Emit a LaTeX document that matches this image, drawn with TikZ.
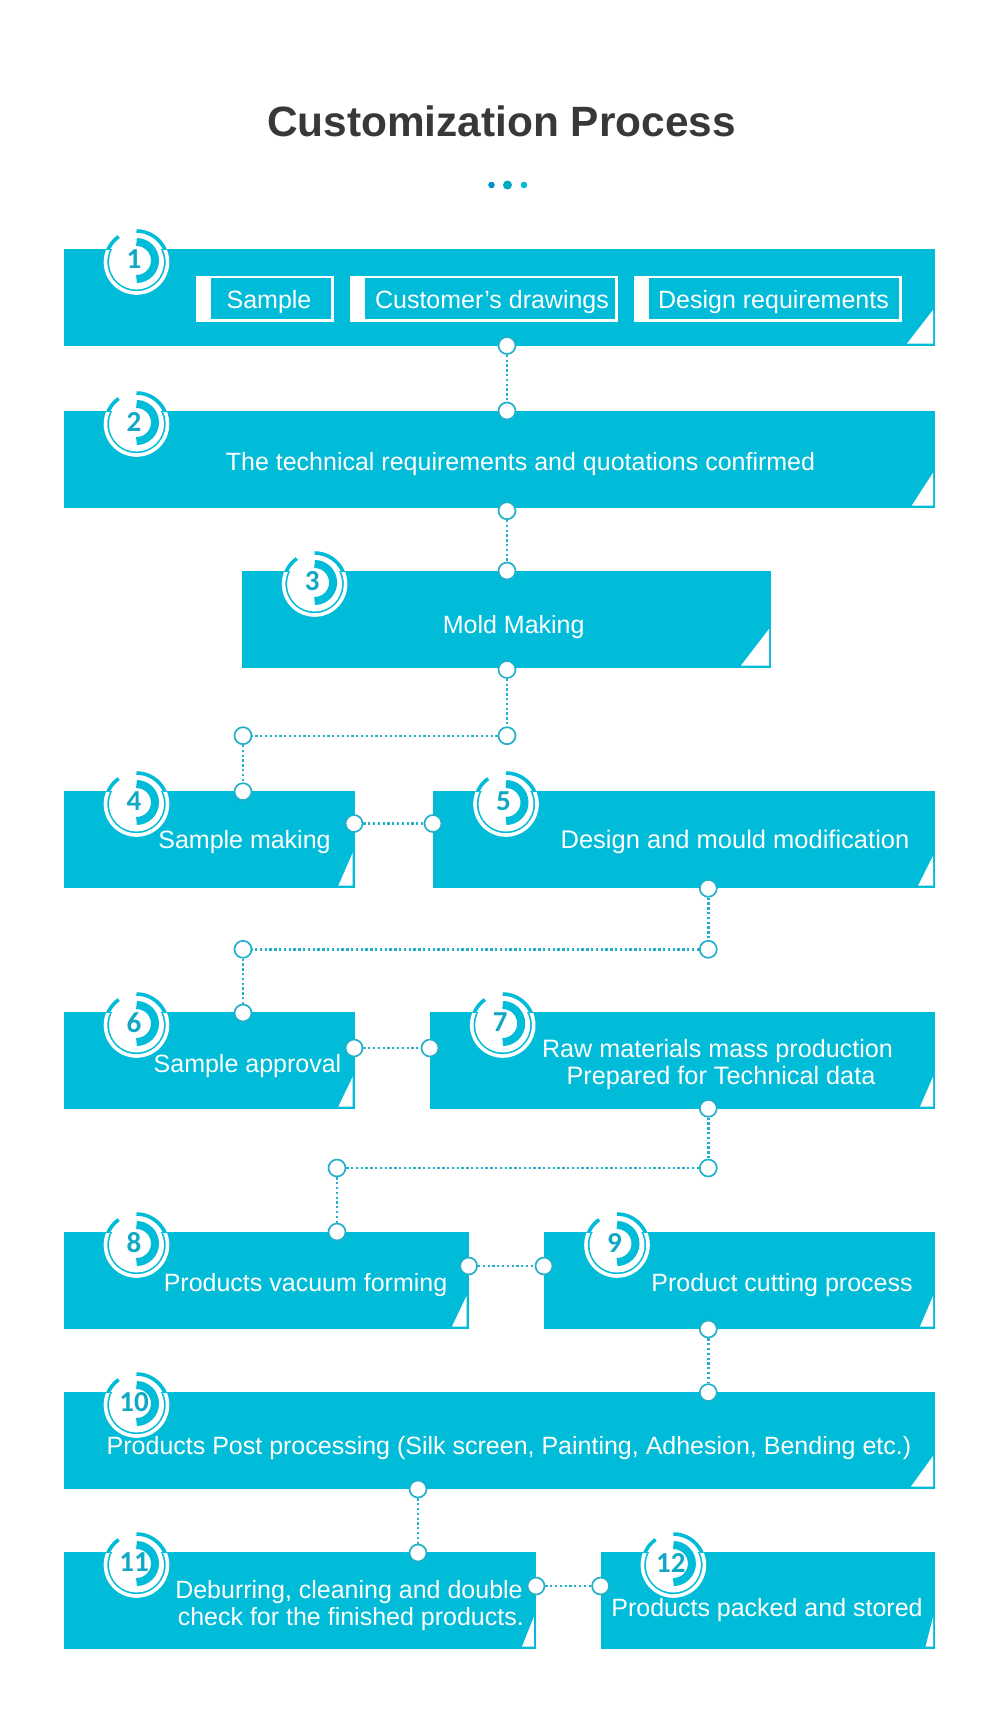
\documentclass[tikz,border=0pt]{standalone}
\usepackage{fontspec}
\setmainfont{Liberation Sans}
\newfontfamily\badgefont{Carlito}
\definecolor{bandteal}{HTML}{00BCD8}
\definecolor{linkteal}{HTML}{22B0CA}
\definecolor{digitteal}{HTML}{10A8C4}
\definecolor{titlegray}{HTML}{383838}
\tikzset{
	band/.style={fill=bandteal, inner sep=0pt, outer sep=0pt, minimum height=97pt},
	steptext/.style={text=white, anchor=base, inner sep=0pt, font=\fontsize{25}{30}\selectfont},
	chip/.style={draw=white, line width=2.6pt, inner sep=0pt, outer sep=0pt, minimum height=43.4pt},
	joint/.style={circle, draw=linkteal, fill=white, line width=1.7pt, inner sep=0pt, minimum size=17pt},
	link/.style={linkteal, line width=2.4pt, dash pattern=on 2.3pt off 2.5pt},
	fold/.style={fill=white}
}

\begin{document}
\begin{tikzpicture}[x=1pt, y=-1pt]
	\useasboundingbox (0,0) rectangle (1000,1725);

	\node[anchor=base, inner sep=0pt, text=titlegray, font=\fontsize{42.4}{50}\selectfont\bfseries] (title) at (501.5,136) {Customization Process};
	\fill[fill=black!10!bandteal!85!blue] (491.5,185) circle[radius=3.3];
	\fill[fill=bandteal!90!black] (507.5,185) circle[radius=4.5];
	\fill[fill=bandteal] (524,185) circle[radius=3.3];

	% bands
	\node[band, minimum width=871pt] (box1) at (499.5,297.5) {};
	\node[band, minimum width=871pt] (box2) at (499.5,459.5) {};
	\node[band, minimum width=529pt] (box3) at (506.5,619.5) {};
	\node[band, minimum width=291pt] (box4) at (209.5,839.5) {};
	\node[band, minimum width=502pt] (box5) at (684,839.5) {};
	\node[band, minimum width=291pt] (box6) at (209.5,1060.5) {};
	\node[band, minimum width=505pt] (box7) at (682.5,1060.5) {};
	\node[band, minimum width=405pt] (box8) at (266.5,1280.5) {};
	\node[band, minimum width=391pt] (box9) at (739.5,1280.5) {};
	\node[band, minimum width=871pt] (box10) at (499.5,1440.5) {};
	\node[band, minimum width=472pt] (box11) at (300,1600.5) {};
	\node[band, minimum width=334.4pt] (box12) at (767.8,1600.5) {};

	% folded corners
	\fill[fold] (933,310) -- (933,343.5) -- (907,343.5) -- cycle;
	\fill[fold] (933,472.7) -- (933,505.7) -- (911.7,505.7) -- cycle;
	\fill[fold] (769,629) -- (769,665.5) -- (741,665.5) -- cycle;
	\fill[fold] (352.7,852.7) -- (352.7,885.7) -- (338.3,885.7) -- cycle;
	\fill[fold] (933,856) -- (933,885.7) -- (918,885.7) -- cycle;
	\fill[fold] (352.7,1076.7) -- (352.7,1106.7) -- (338.3,1106.7) -- cycle;
	\fill[fold] (933,1076.7) -- (933,1106.7) -- (920,1106.7) -- cycle;
	\fill[fold] (466.5,1296) -- (466.5,1326.5) -- (452,1326.5) -- cycle;
	\fill[fold] (933,1296) -- (933,1326.5) -- (920,1326.5) -- cycle;
	\fill[fold] (933,1456) -- (933,1486.5) -- (911,1486.5) -- cycle;
	\fill[fold] (533.8,1617) -- (533.8,1646.5) -- (522,1646.5) -- cycle;
	\fill[fold] (933,1617) -- (933,1646.5) -- (925.6,1646.5) -- cycle;

	% request chips
	\node[chip, minimum width=135.4pt] (chip1) at (265,298.7) {};
	\node[chip, minimum width=265.4pt] (chip2) at (484,298.7) {};
	\node[chip, minimum width=265.1pt] (chip3) at (767.9,298.7) {};
	\fill[white] (chip1.north west) rectangle ([xshift=13.4pt]chip1.south west);
	\fill[white] (chip2.north west) rectangle ([xshift=13.4pt]chip2.south west);
	\fill[white] (chip3.north west) rectangle ([xshift=13.4pt]chip3.south west);

	% labels
	\node[steptext] (sample) at (269,308.7) {Sample};
	\node[steptext] (drawings) at (492,308.7) {Customer’s drawings};
	\node[steptext] (design) at (773.5,308.7) {Design requirements};
	\node[steptext] (label2) at (520.5,470) {The technical requirements and quotations confirmed};
	\node[steptext] (label3) at (513.7,633.6) {Mold Making};
	\node[steptext] (label4) at (244.5,848.7) {Sample making};
	\node[steptext, font=\fontsize{25.5}{30}\selectfont] (label5) at (735,848.7) {Design and mould modification};
	\node[steptext] (label6) at (247.5,1072) {Sample approval};
	\node[steptext, font=\fontsize{25.15}{30}\selectfont] (label7a) at (717.5,1057.7) {Raw materials mass production};
	\node[steptext, font=\fontsize{25.25}{30}\selectfont] (label7b) at (721,1084.5) {Prepared for Technical data};
	\node[steptext] (label8) at (305.5,1291) {Products vacuum forming};
	\node[steptext] (label9) at (782,1291) {Product cutting process};
	\node[steptext] (label10) at (509,1454) {Products Post processing (Silk screen, Painting, Adhesion, Bending etc.)};
	\node[steptext] (label11a) at (349,1598) {Deburring, cleaning and double};
	\node[steptext] (label11b) at (350.8,1625) {check for the finished products.};
	\node[steptext] (label12) at (767,1616.7) {Products packed and stored};

	% step badges
	\foreach \cx/\cy/\num in {136.5/262/1, 136.5/424/2, 314.6/584/3, 136.5/804/4, 506/804/5, 136.5/1025/6,
		502.7/1025/7, 136.5/1245/8, 617/1245/9, 136.5/1405/10, 136.5/1565/11, 673.4/1565/12} {
		\begin{scope}[shift={(\cx,\cy)}, x=1pt, y=1pt]
			\fill[white] (0,0) circle[radius=27.5];
			\draw[white, line width=3.6pt] (125:31) arc[start angle=125, end angle=450, radius=31];
			\begin{scope}
				\clip (-40,13) rectangle (40,40);
				\draw[bandteal, line width=3.6pt] (125:31) arc[start angle=125, end angle=450, radius=31];
			\end{scope}
			\draw[bandteal, line width=8pt] (0,20) arc[start angle=90, end angle=-90, radius=18.5];
			\node[inner sep=0pt, text=digitteal, font=\fontsize{29}{30}\selectfont\badgefont\bfseries] (badge\num) at (-2.5,2.5) {\num};
		\end{scope}
	}

	% joints
	\node[joint] (j1a) at (507,345.5) {};
	\node[joint] (j1b) at (507,411) {};
	\node[joint] (j2a) at (507,510.7) {};
	\node[joint] (j2b) at (507,571) {};
	\node[joint] (j3a) at (507,669.5) {};
	\node[joint] (j3b) at (507,735.7) {};
	\node[joint] (j3c) at (243,735.7) {};
	\node[joint] (j3d) at (243,791.7) {};
	\node[joint] (j4a) at (354,823.5) {};
	\node[joint] (j4b) at (433,823.5) {};
	\node[joint] (j5a) at (708.3,888.3) {};
	\node[joint] (j5b) at (708.3,949.3) {};
	\node[joint] (j5c) at (243,949.3) {};
	\node[joint] (j5d) at (243,1013) {};
	\node[joint] (j6a) at (354,1048) {};
	\node[joint] (j6b) at (430,1048) {};
	\node[joint] (j7a) at (708.3,1108.3) {};
	\node[joint] (j7b) at (708.3,1168) {};
	\node[joint] (j7c) at (337,1168) {};
	\node[joint] (j7d) at (337,1232) {};
	\node[joint] (j8a) at (468.6,1266) {};
	\node[joint] (j8b) at (544,1266) {};
	\node[joint] (j9a) at (708.3,1329) {};
	\node[joint] (j9b) at (708.3,1392.6) {};
	\node[joint] (j10a) at (418,1489) {};
	\node[joint] (j10b) at (418,1553) {};
	\node[joint] (j11a) at (536,1586) {};
	\node[joint] (j11b) at (600.6,1586) {};

	% links
	\draw[link] (j1a) -- (j1b);
	\draw[link] (j2a) -- (j2b);
	\draw[link] (j3a) -- (j3b);
	\draw[link] (j3b) -- (j3c);
	\draw[link] (j3c) -- (j3d);
	\draw[link] (j4a) -- (j4b);
	\draw[link] (j5a) -- (j5b);
	\draw[link] (j5b) -- (j5c);
	\draw[link] (j5c) -- (j5d);
	\draw[link] (j6a) -- (j6b);
	\draw[link] (j7a) -- (j7b);
	\draw[link] (j7b) -- (j7c);
	\draw[link] (j7c) -- (j7d);
	\draw[link] (j8a) -- (j8b);
	\draw[link] (j9a) -- (j9b);
	\draw[link] (j10a) -- (j10b);
	\draw[link] (j11a) -- (j11b);
\end{tikzpicture}
\end{document}
